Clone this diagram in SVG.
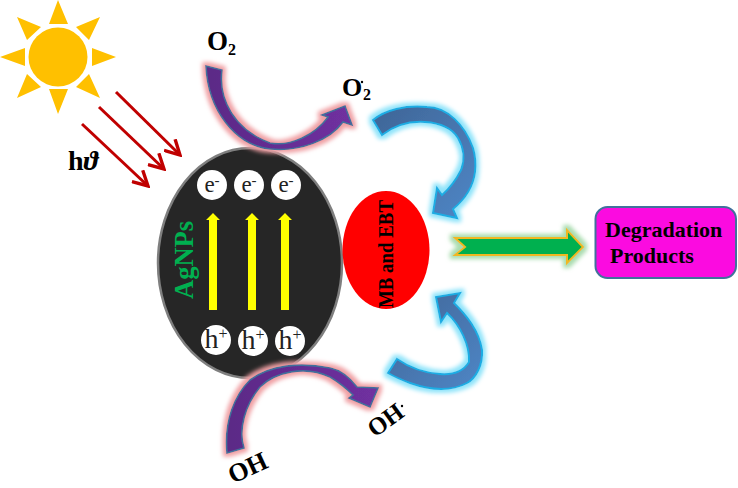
<svg xmlns="http://www.w3.org/2000/svg" width="738" height="488" viewBox="0 0 738 488">
<style>
text{font-family:"Liberation Serif","Times New Roman",serif}
.b{font-weight:bold;fill:#000}
.sun{fill:#ffc000}
.ray{stroke:#c00000;stroke-width:3;fill:none;marker-end:url(#red)}
.up{fill:#ffff00;stroke:none}
.pur{stroke:#41719c;stroke-width:1.6;filter:url(#gPink)}
.blu{stroke:#1cade4;stroke-width:2;filter:url(#gBlue)}
.ball{fill:#fff}
.q{font-size:23px;fill:#222;text-anchor:middle}
.h{font-size:28px;fill:#222;text-anchor:middle}
</style>
<defs>
<marker id="red" viewBox="0 0 16 16" refX="14" refY="8" markerWidth="6" markerHeight="6" orient="auto"><path d="M1,1 L14,8 L1,15" fill="none" stroke="#c00000" stroke-width="3"/></marker>
<linearGradient id="bl1" x1="0" y1="0" x2="1" y2="1"><stop offset="0" stop-color="#3f6596"/><stop offset="1" stop-color="#4f86c6"/></linearGradient>
<linearGradient id="pu1" x1="0" y1="0" x2="1" y2="0"><stop offset="0" stop-color="#5b2a86"/><stop offset="1" stop-color="#7030a0"/></linearGradient>
<filter id="gPink" x="-20%" y="-20%" width="140%" height="140%"><feMorphology in="SourceAlpha" operator="dilate" radius="3" result="d"/><feGaussianBlur in="d" stdDeviation="2.2" result="b"/><feFlood flood-color="#f0a0a4"/><feComposite in2="b" operator="in" result="c"/><feMerge><feMergeNode in="c"/><feMergeNode in="SourceGraphic"/></feMerge></filter>
<filter id="gBlue" x="-20%" y="-20%" width="140%" height="140%"><feMorphology in="SourceAlpha" operator="dilate" radius="3" result="d"/><feGaussianBlur in="d" stdDeviation="2.2" result="b"/><feFlood flood-color="#8fe4fa"/><feComposite in2="b" operator="in" result="c"/><feMerge><feMergeNode in="c"/><feMergeNode in="SourceGraphic"/></feMerge></filter>
<filter id="gGreen" x="-20%" y="-40%" width="140%" height="180%"><feMorphology in="SourceAlpha" operator="dilate" radius="3" result="d"/><feGaussianBlur in="d" stdDeviation="2.2" result="b"/><feFlood flood-color="#a8dcae"/><feComposite in2="b" operator="in" result="c"/><feMerge><feMergeNode in="c"/><feMergeNode in="SourceGraphic"/></feMerge></filter>
</defs>
<rect width="738" height="488" fill="#fff"/>
<g id="sun">
<circle class="sun" cx="58" cy="57" r="29.5"/>
<path class="sun" d="M58,0 L68,24 L49,24 Z M116,57 L92,66 L92,48 Z M58,114 L49,89 L68,89 Z M0,57 L25,48 L25,66 Z M100,17 L89,40 L76,27 Z M17,17 L41,27 L27,40 Z M100,98 L76,87 L89,74 Z M17,98 L27,74 L41,87 Z"/>
</g>
<g id="nanoparticle">
<ellipse cx="250" cy="263" rx="92" ry="115" fill="#262626" stroke="#7f7f7f" stroke-width="2.5"/>
<text transform="translate(193,299) rotate(-90)" font-size="27" font-weight="bold" fill="#00b050" textLength="78" lengthAdjust="spacingAndGlyphs">AgNPs</text>
</g>
<g id="dye">
<ellipse cx="386" cy="250" rx="43.5" ry="59" fill="#ff0000"/>
<text class="b" transform="translate(393,308) rotate(-90)" font-size="20" textLength="108" lengthAdjust="spacingAndGlyphs">MB and EBT</text>
</g>
<g id="products">
<rect x="595.500" y="207" width="140.500" height="71" rx="12" fill="#fb0be0" stroke="#41719c" stroke-width="2"/>
<text class="b" x="605" y="237" font-size="22">Degradation</text>
<text class="b" x="610" y="263" font-size="22">Products</text>
</g>
<g id="electrons">
<circle class="ball" cx="212" cy="185" r="15"/><circle class="ball" cx="249" cy="185" r="15"/><circle class="ball" cx="286" cy="185" r="15"/>
<text class="q" x="212" y="192">e<tspan font-size="15" dy="-7">-</tspan></text>
<text class="q" x="249" y="192">e<tspan font-size="15" dy="-7">-</tspan></text>
<text class="q" x="286" y="192">e<tspan font-size="15" dy="-7">-</tspan></text>
</g>
<g id="holes">
<circle class="ball" cx="216" cy="340" r="15"/><circle class="ball" cx="253" cy="341" r="15"/><circle class="ball" cx="290" cy="341" r="15"/>
<text class="h" x="216" y="348">h<tspan font-size="16" dy="-9">+</tspan></text>
<text class="h" x="253" y="349">h<tspan font-size="16" dy="-9">+</tspan></text>
<text class="h" x="290" y="349">h<tspan font-size="16" dy="-9">+</tspan></text>
</g>
<g id="labels">
<text class="b" x="207" y="50" font-size="27">O</text><text class="b" x="228" y="55" font-size="16">2</text>
<text class="b" x="342" y="96" font-size="26">O</text><text class="b" x="363" y="100" font-size="16">2</text><circle cx="362" cy="82" r="1.2" fill="#000"/>
<text class="b" x="68" y="170" font-size="28">h<tspan font-style="italic">ϑ</tspan></text>
<text class="b" transform="translate(233,484) rotate(-25)" font-size="26">OH</text>
<text class="b" transform="translate(375,438) rotate(-36)" font-size="25" textLength="38" lengthAdjust="spacingAndGlyphs">OH</text><circle cx="402" cy="406" r="1.2" fill="#000"/>
</g>
<g id="connectors">
<path class="ray" d="M116,92 L180,155"/>
<path class="ray" d="M99,107 L164,169"/>
<path class="ray" d="M82,124 L148,186"/>
<path class="up" d="M209,310 V220 H206 L213,213 L220,220 H217 V310 Z"/>
<path class="up" d="M248,310 V220 H245 L252,213 L259,220 H256 V310 Z"/>
<path class="up" d="M281,310 V220 H278 L285,213 L292,220 H289 V310 Z"/>
<path class="pur" fill="url(#pu1)" d="M206,66 L222,70 C218,100 235,130 270,143 C290,147 315,135 328,117 L322,115 L345,106 L352,125 L343,122 C330,140 300,152 270,149 C235,145 208,110 206,66 Z"/>
<path class="pur" fill="url(#pu1)" d="M227,453 L244,448 C238,430 245,405 260,387 C275,372 305,365 330,377 C340,383 348,390 353,395 L349,398 L370,407 L378,388 L357,387 C350,378 340,370 330,368 C300,362 270,365 250,380 C235,395 224,420 227,453 Z"/>
<path class="blu" fill="url(#bl1)" d="M373,120 L382,135 C395,125 410,121 425,122 C440,123 452,128 458,138 C464,148 465,160 461,170 C456,180 450,188 442,195 L437,188 L433,213 L457,218 L453,209 C464,200 473,188 475,172 C476,163 475,155 473,148 C465,125 447,107 427,107 C405,105 385,110 373,120 Z"/>
<path class="blu" fill="url(#bl1)" d="M388,373 L397,359 C410,368 425,373 440,374 C453,375 463,372 469,362 C470,345 460,325 447,313 L441,322 L436,297 L460,293 L454,303 C466,315 479,330 482,350 C483,365 476,378 467,383 C450,392 430,390 410,383 C402,380 395,377 388,373 Z"/>
<path d="M455,238 L567,238 L567,230 L583,247 L567,263 L567,255 L455,255 L465,247 Z" fill="#00b050" stroke="#f0b820" stroke-width="2" filter="url(#gGreen)"/>
</g>
</svg>
